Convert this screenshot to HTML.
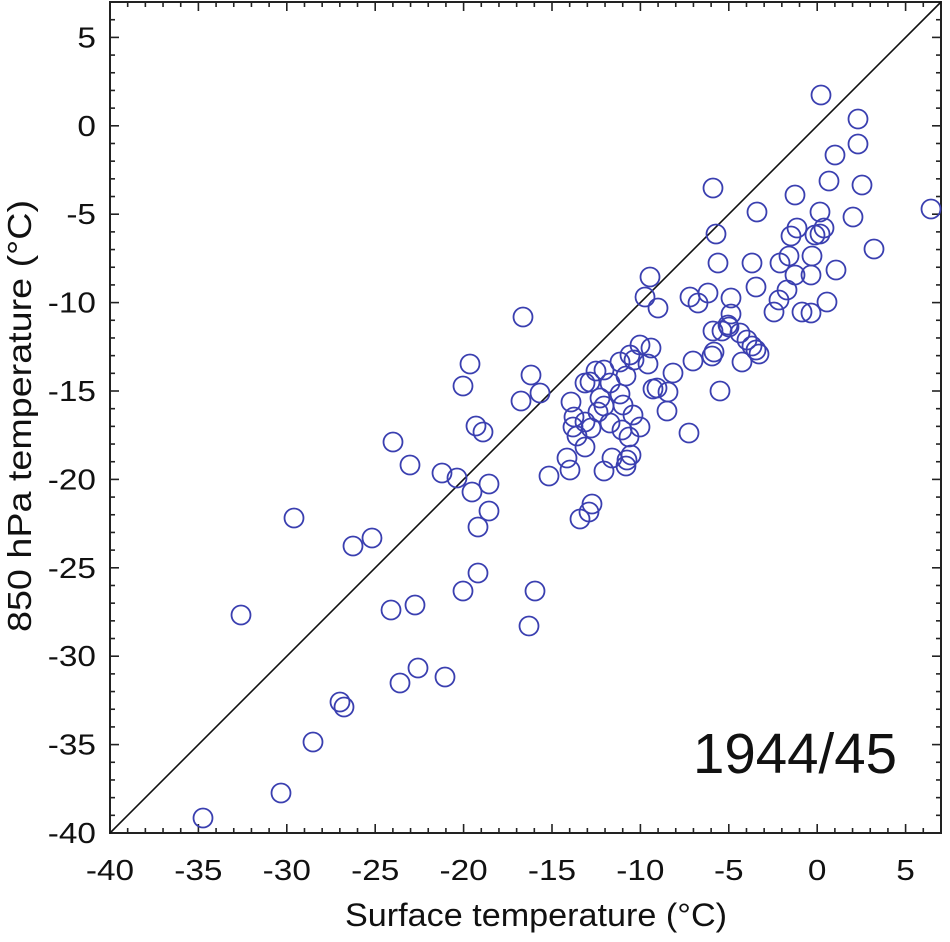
<!DOCTYPE html>
<html><head><meta charset="utf-8"><style>body{margin:0;background:#fff}svg{display:block}text{font-family:"Liberation Sans",sans-serif;fill:#111}</style></head><body>
<svg width="950" height="942" viewBox="0 0 950 942" xmlns="http://www.w3.org/2000/svg">
<g id="ticks" stroke="#222" stroke-width="1.6"></g>
<rect x="110" y="2" width="831" height="831" fill="none" stroke="#222" stroke-width="2"/>
<line x1="110" y1="833" x2="941" y2="2" stroke="#111" stroke-width="1.6"/>
<g id="pts" fill="none" stroke="#3a3fb0" stroke-width="1.8"></g>
<g id="lab" font-size="29"></g>
<text x="693" y="773" font-size="57" textLength="204" lengthAdjust="spacingAndGlyphs">1944/45</text>
<text x="345" y="926" font-size="32" textLength="382" lengthAdjust="spacingAndGlyphs">Surface temperature (°C)</text>
<text transform="translate(31,632) rotate(-90)" font-size="33" textLength="432" lengthAdjust="spacingAndGlyphs">850 hPa temperature (°C)</text>
</svg>
<script>
var s=17.68,ns="http://www.w3.org/2000/svg";
function X(v){return 110+(v+40)*s}function Y(v){return 833-(v+40)*s}
var t=document.getElementById('ticks'),l=document.getElementById('lab');
function ln(a,b,c,d){var e=document.createElementNS(ns,'line');e.setAttribute('x1',a);e.setAttribute('y1',b);e.setAttribute('x2',c);e.setAttribute('y2',d);t.appendChild(e)}
function tx(x,y,s2,a){var e=document.createElementNS(ns,'text');e.setAttribute('x',x);e.setAttribute('y',y);e.setAttribute('text-anchor',a);e.textContent=s2;l.appendChild(e);var w=e.getComputedTextLength();e.setAttribute('textLength',w*1.15);e.setAttribute('lengthAdjust','spacingAndGlyphs')}
for(var v=-40;v<=6;v++){var L=(v%5==0)?9:5;ln(X(v),833,X(v),833-L);ln(X(v),2,X(v),2+L);ln(110,Y(v),110+L,Y(v));ln(941,Y(v),941-L,Y(v));
if(v%5==0){tx(X(v),880,v,'middle');tx(96,Y(v)+10,v,'end');}}
var P=[[821,95],[858,119],[858,144],[835,155],[829,181],[862,185],[713,188],[820,212],[757,212],[853,217],[795,195],[824,228],[815,235],[797,228],[791,236],[874,249],[716,234],[718,263],[780,263],[752,263],[820,234],[789,256],[812,256],[650,277],[795,275],[836,270],[811,275],[731,298],[690,297],[698,303],[708,293],[645,297],[658,308],[787,290],[779,300],[802,312],[827,302],[774,312],[811,313],[756,287],[731,314],[729,327],[722,331],[728,325],[740,333],[713,331],[714,352],[712,356],[693,361],[742,362],[651,348],[640,345],[620,362],[634,360],[648,364],[630,355],[756,350],[747,340],[752,346],[759,354],[720,391],[673,373],[668,392],[657,388],[653,389],[596,371],[590,382],[585,383],[604,370],[610,383],[620,394],[626,376],[600,398],[604,406],[571,402],[574,417],[585,422],[573,427],[577,436],[585,447],[591,428],[598,412],[610,423],[622,430],[623,405],[629,437],[640,427],[633,415],[631,455],[612,458],[604,471],[626,466],[627,460],[667,411],[689,433],[570,470],[549,476],[567,458],[580,519],[589,512],[592,504],[523,317],[531,375],[521,401],[540,393],[470,364],[463,386],[476,426],[483,432],[393,442],[410,465],[442,473],[457,478],[472,492],[489,484],[489,511],[478,527],[294,518],[353,546],[372,538],[478,573],[463,591],[535,591],[529,626],[391,610],[415,605],[241,615],[418,668],[445,677],[400,683],[340,702],[344,707],[313,742],[281,793],[203,818],[931,209]];
var g=document.getElementById('pts');P.forEach(function(p){var c=document.createElementNS(ns,'circle');c.setAttribute('cx',p[0]);c.setAttribute('cy',p[1]);c.setAttribute('r',9.5);g.appendChild(c)});
</script>
</body></html>
